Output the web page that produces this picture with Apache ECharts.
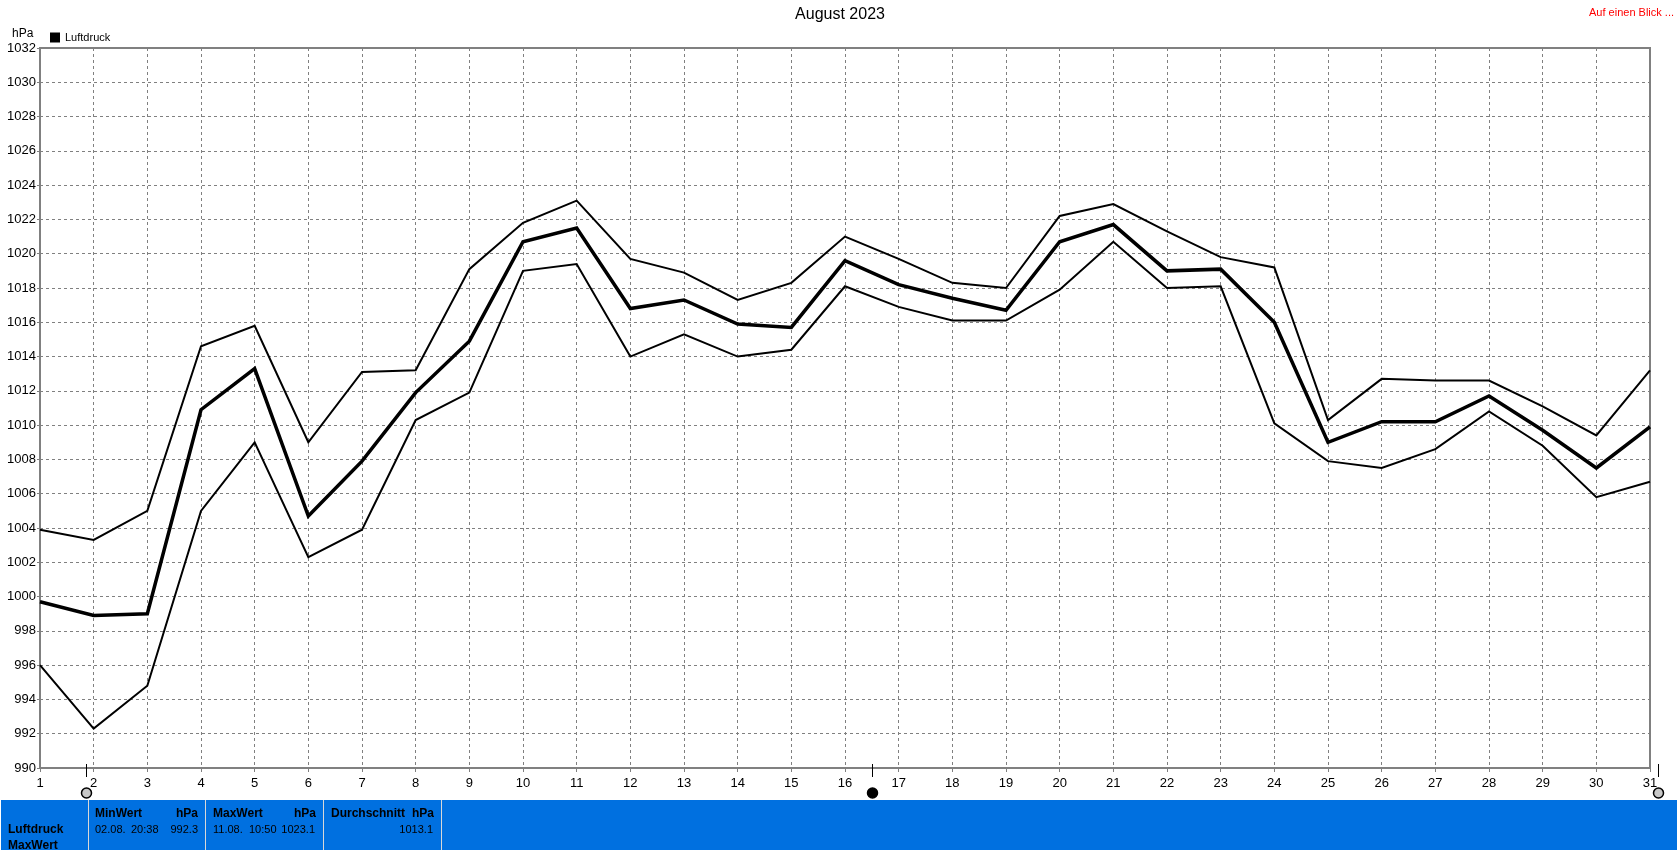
<!DOCTYPE html>
<html><head><meta charset="utf-8">
<style>html,body{margin:0;padding:0;background:#fff;overflow:hidden}#c{width:1677px;height:850px}</style>
<script src="https://cdn.jsdelivr.net/npm/echarts@6/dist/echarts.min.js"></script>
</head><body><div id="c"></div>
<script>
const days = [1,2,3,4,5,6,7,8,9,10,11,12,13,14,15,16,17,18,19,20,21,22,23,24,25,26,27,28,29,30,31];
const maxValues = [1003.9,1003.3,1005,1014.6,1015.8,1009,1013.1,1013.2,1019.1,1021.8,1023.1,1019.7,1018.9,1017.3,1018.3,1021,1019.7,1018.3,1018,1022.2,1022.9,1021.3,1019.8,1019.2,1010.3,1012.7,1012.6,1012.6,1011.1,1009.4,1013.2];
const meanValues = [999.7,998.9,999,1010.9,1013.3,1004.7,1007.9,1011.9,1014.9,1020.7,1021.5,1016.8,1017.3,1015.9,1015.7,1019.6,1018.2,1017.4,1016.7,1020.7,1021.7,1019,1019.1,1016,1009,1010.2,1010.2,1011.7,1009.7,1007.5,1009.9];
const minValues = [996,992.3,994.8,1005,1009,1002.3,1003.9,1010.3,1011.9,1019,1019.4,1014,1015.3,1014,1014.4,1018.1,1016.9,1016.1,1016.1,1017.9,1020.7,1018,1018.1,1010.1,1007.9,1007.5,1008.6,1010.8,1008.8,1005.8,1006.7];
const moonDays = [1.85,16.5,31.15];
const moonFills = ['#c8c8c8','#000000','#c8c8c8'];
const pair = a => a.map((v,i)=>[days[i],v]);
const font = 'Liberation Sans, Arial, sans-serif';
const chart = echarts.init(document.getElementById('c'));

const panelText = [
  ['Luftdruck',8,830,'left',true],['MaxWert',8,846,'left',true],
  ['MinWert',95,814,'left',true],['hPa',198,814,'right',true],
  ['02.08.',95,830,'left',false],['20:38',131,830,'left',false],['992.3',198,830,'right',false],
  ['MaxWert',213,814,'left',true],['hPa',316,814,'right',true],
  ['11.08.',213,830,'left',false],['10:50',249,830,'left',false],['1023.1',315,830,'right',false],
  ['Durchschnitt',331,814,'left',true],['hPa',434,814,'right',true],
  ['1013.1',433,830,'right',false]
];
const separators = [88,205,323,441];

const graphic = [
  {type:'rect',shape:{x:1,y:800,width:1676,height:50},style:{fill:'#0070e0'},silent:true},
  ...separators.map(x=>({type:'rect',shape:{x:x,y:800,width:1,height:50},style:{fill:'#d8d8d8'},silent:true})),
  ...panelText.map(t=>({type:'text',x:t[1],y:t[2],silent:true,style:{text:t[0],fill:'#000',align:t[3],verticalAlign:'middle',font:(t[4]?'bold 12px ':'11px ')+font}})),
  {type:'text',x:1674,y:13,silent:true,style:{text:'Auf einen Blick ...',fill:'#ff0000',align:'right',verticalAlign:'middle',font:'11px '+font}},
  {type:'text',x:12,y:34,silent:true,style:{text:'hPa',fill:'#000',align:'left',verticalAlign:'middle',font:'12px '+font}},
  {type:'text',x:840,y:15,silent:true,style:{text:'August 2023',fill:'#000',align:'center',verticalAlign:'middle',font:'16px '+font}}
];

const lineSeries = (name,data,w)=>({name,type:'line',data:pair(data),symbol:'none',z:5,
  lineStyle:{color:'#000',width:w,join:'miter'},itemStyle:{color:'#000'},animation:false,clip:true});

chart.setOption({
  animation:false,
  backgroundColor:'#fff',
  textStyle:{fontFamily:font},
  legend:{data:[{name:'Luftdruck',icon:'rect'}],left:50,top:32,itemWidth:10,itemHeight:10,itemGap:4,padding:0,
    textStyle:{fontSize:11,color:'#000',fontFamily:font,padding:[0,0,0,0]},selectedMode:false},
  grid:{left:40,right:27,top:48,bottom:82,show:true,borderColor:'#808080',borderWidth:2,backgroundColor:'#fff'},
  xAxis:{type:'value',min:1,max:31,interval:1,
    axisLine:{show:false},axisTick:{show:true,length:4,lineStyle:{color:'#808080'}},
    axisLabel:{color:'#000',fontSize:13,margin:9,showMinLabel:true,showMaxLabel:true,fontFamily:font},
    splitLine:{show:true,lineStyle:{color:'#808080',type:[3,3],width:1}}},
  yAxis:{type:'value',min:990,max:1032,interval:2,
    axisLine:{show:false},axisTick:{show:true,length:3,lineStyle:{color:'#808080'}},
    axisLabel:{color:'#000',fontSize:13,margin:4,fontFamily:font,formatter:v=>String(v)},
    splitLine:{show:true,lineStyle:{color:'#808080',type:[3,3],width:1}}},
  series:[
    lineSeries('Max',maxValues,2),
    lineSeries('Luftdruck',meanValues,3.5),
    lineSeries('Min',minValues,2),
    {type:'custom',name:'Mond',clip:false,silent:true,z:6,
     data:moonDays.map((d,i)=>[d,990,i]),
     encode:{x:0,y:1},
     renderItem:(p,api)=>{
       const pt=api.coord([api.value(0),api.value(1)]);
       const x=Math.round(pt[0])+0.5, y=pt[1];
       return {type:'group',children:[
         {type:'line',shape:{x1:x,y1:y-4,x2:x,y2:y+9},style:{stroke:'#000',lineWidth:1}},
         {type:'circle',shape:{cx:x,cy:y+25,r:5},style:{fill:moonFills[api.value(2)],stroke:'#000',lineWidth:1.5}}
       ]};
     }}
  ],
  graphic
});
</script></body></html>
